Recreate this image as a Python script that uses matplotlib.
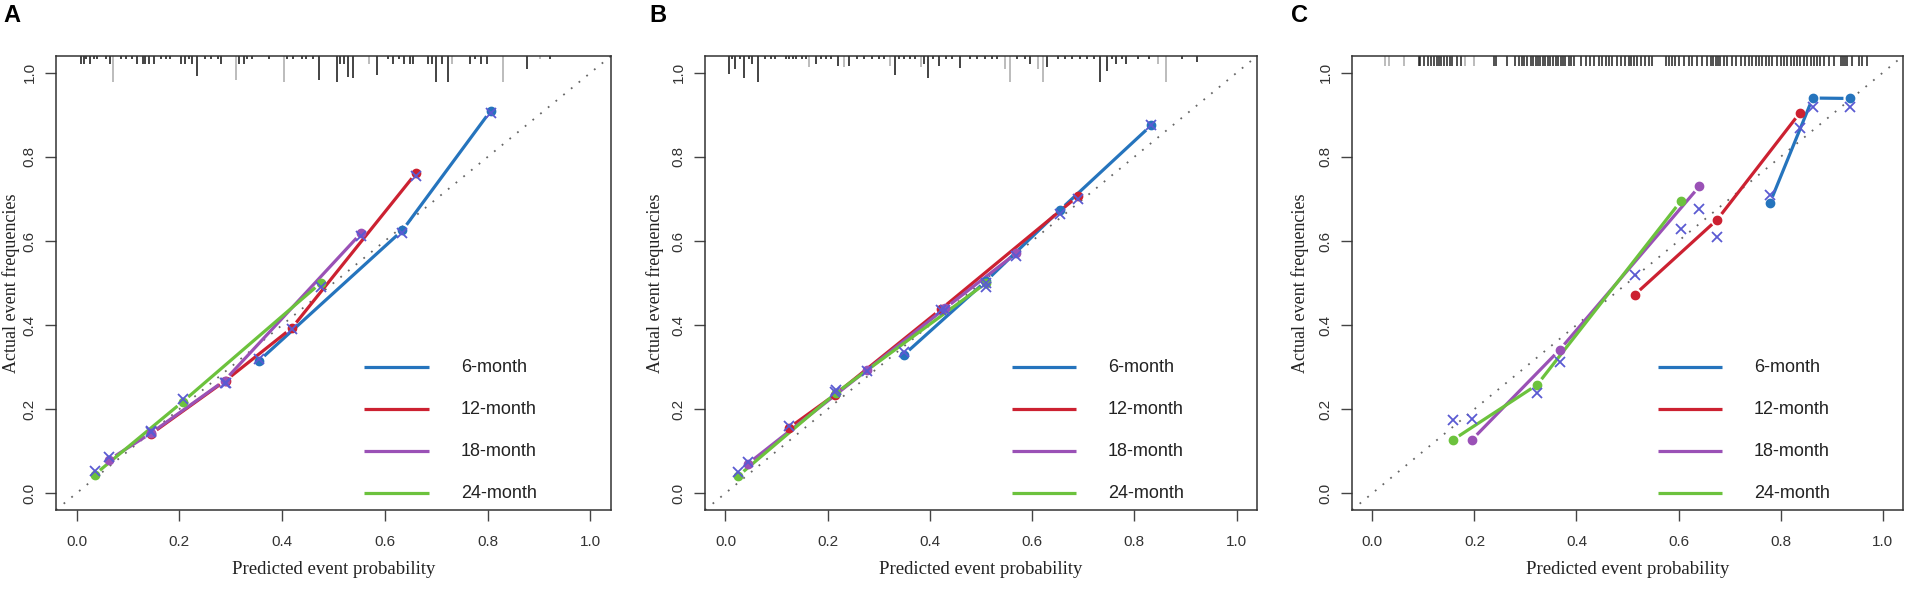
import numpy as np
import matplotlib
matplotlib.use("Agg")
import matplotlib.pyplot as plt

plt.rcParams['font.family'] = ['Liberation Sans', 'DejaVu Sans']

# ---------- data
month_labels = ['6-month', '12-month', '18-month', '24-month']
month_colors = ['#2574bd', '#cc2131', '#9a51b6', '#6cc23d']

# panel A: predicted vs observed, plus bias-corrected estimates (x marks)
a_pred = [[0.355, 0.634, 0.806],
          [0.145, 0.290, 0.419, 0.661],
          [0.064, 0.145, 0.288, 0.554],
          [0.035, 0.207, 0.475]]
a_obs = [[0.315, 0.625, 0.910],
         [0.141, 0.268, 0.393, 0.762],
         [0.080, 0.143, 0.268, 0.619],
         [0.044, 0.218, 0.500]]
a_corr = [[0.320, 0.620, 0.905],
          [0.145, 0.262, 0.390, 0.755],
          [0.085, 0.148, 0.262, 0.612],
          [0.052, 0.225, 0.490]]

# panel B
b_pred = [[0.349, 0.510, 0.654, 0.833],
          [0.124, 0.214, 0.422, 0.689],
          [0.044, 0.276, 0.430, 0.569],
          [0.025, 0.216, 0.510]]
b_obs = [[0.329, 0.505, 0.673, 0.875],
         [0.155, 0.234, 0.438, 0.706],
         [0.070, 0.292, 0.440, 0.571],
         [0.041, 0.238, 0.500]]
b_corr = [[0.335, 0.500, 0.665, 0.875],
          [0.160, 0.240, 0.435, 0.700],
          [0.075, 0.290, 0.435, 0.565],
          [0.050, 0.245, 0.490]]

# panel C
c_pred = [[0.779, 0.863, 0.937],
          [0.514, 0.676, 0.838],
          [0.195, 0.367, 0.641],
          [0.158, 0.323, 0.604]]
c_obs = [[0.690, 0.940, 0.939],
         [0.472, 0.651, 0.905],
         [0.127, 0.341, 0.730],
         [0.127, 0.258, 0.694]]
c_corr = [[0.710, 0.919, 0.919],
          [0.520, 0.610, 0.869],
          [0.176, 0.313, 0.677],
          [0.175, 0.238, 0.629]]

# risk distribution spikes along the top (position, height)
a_rug_black_x = [0.008, 0.015, 0.019, 0.026, 0.033, 0.039, 0.058, 0.065, 0.086, 0.097,
                 0.108, 0.118, 0.129, 0.134, 0.140, 0.150, 0.164, 0.175, 0.182, 0.204,
                 0.211, 0.218, 0.225, 0.234, 0.250, 0.261, 0.275, 0.282, 0.317, 0.325,
                 0.332, 0.342, 0.374, 0.410, 0.421, 0.438, 0.446, 0.460, 0.472, 0.506,
                 0.513, 0.520, 0.529, 0.538, 0.584, 0.606, 0.616, 0.627, 0.638, 0.648,
                 0.655, 0.684, 0.691, 0.700, 0.712, 0.723, 0.766, 0.776, 0.787, 0.798,
                 0.876, 0.922]
a_rug_black_h = [.019, .019, .007, .019, .007, .007, .007, .019, .007, .007,
                 .007, .019, .019, .019, .019, .019, .007, .007, .007, .019,
                 .019, .007, .019, .048, .007, .007, .007, .019, .019, .019,
                 .007, .007, .007, .007, .007, .007, .007, .007, .058, .061,
                 .019, .019, .050, .052, .045, .007, .019, .007, .019, .019,
                 .019, .019, .019, .061, .019, .061, .019, .007, .019, .019,
                 .032, .007]
a_rug_gray_x = [0.070, 0.310, 0.403, 0.570, 0.730, 0.830, 0.901]
a_rug_gray_h = [0.061, 0.058, 0.061, 0.019, 0.019, 0.061, 0.007]

b_rug_black_x = [0.007, 0.013, 0.019, 0.028, 0.037, 0.046, 0.052, 0.063, 0.078, 0.089,
                 0.096, 0.118, 0.125, 0.132, 0.139, 0.150, 0.157, 0.177, 0.186, 0.196,
                 0.207, 0.221, 0.241, 0.257, 0.271, 0.286, 0.300, 0.311, 0.331, 0.339,
                 0.350, 0.361, 0.371, 0.389, 0.396, 0.407, 0.418, 0.432, 0.443, 0.458,
                 0.478, 0.493, 0.507, 0.521, 0.532, 0.571, 0.586, 0.596, 0.630, 0.650,
                 0.664, 0.678, 0.693, 0.707, 0.721, 0.732, 0.746, 0.757, 0.764, 0.775,
                 0.784, 0.807, 0.828, 0.893, 0.923]
b_rug_black_h = [.044, .007, .030, .007, .052, .007, .019, .061, .007, .007,
                 .007, .007, .007, .007, .007, .007, .007, .019, .007, .007,
                 .007, .024, .024, .007, .007, .007, .007, .007, .045, .007,
                 .007, .007, .007, .019, .052, .007, .024, .007, .007, .028,
                 .007, .007, .007, .007, .007, .007, .007, .019, .026, .007,
                 .007, .007, .007, .007, .007, .061, .036, .007, .019, .007,
                 .019, .007, .007, .007, .015]
b_rug_gray_x = [0.164, 0.232, 0.321, 0.382, 0.546, 0.557, 0.611, 0.621, 0.846, 0.861]
b_rug_gray_h = [.026, .026, .024, .026, .030, .061, .032, .061, .019, .061]

c_rug_black_x = [0.091, 0.094, 0.102, 0.109, 0.114, 0.120, 0.126, 0.130, 0.135, 0.140,
                 0.146, 0.153, 0.156, 0.165, 0.173, 0.238, 0.243, 0.264, 0.280, 0.287,
                 0.294, 0.298, 0.303, 0.310, 0.315, 0.320, 0.325, 0.329, 0.335, 0.339,
                 0.344, 0.349, 0.354, 0.359, 0.363, 0.369, 0.374, 0.378, 0.385, 0.390,
                 0.396, 0.408, 0.418, 0.426, 0.434, 0.444, 0.450, 0.457, 0.463, 0.470,
                 0.480, 0.488, 0.496, 0.503, 0.506, 0.512, 0.519, 0.526, 0.534, 0.542,
                 0.548, 0.575, 0.581, 0.588, 0.594, 0.601, 0.611, 0.620, 0.627, 0.637,
                 0.646, 0.656, 0.663, 0.667, 0.673, 0.678, 0.682, 0.689, 0.695, 0.704,
                 0.712, 0.722, 0.731, 0.738, 0.744, 0.751, 0.758, 0.764, 0.771, 0.777,
                 0.784, 0.794, 0.800, 0.807, 0.813, 0.820, 0.826, 0.833, 0.839, 0.846,
                 0.852, 0.859, 0.865, 0.872, 0.878, 0.885, 0.895, 0.905, 0.918, 0.922,
                 0.926, 0.931, 0.941, 0.954, 0.960, 0.970]
c_rug_gray_x = [0.024, 0.032, 0.061, 0.182, 0.200]

ticks = [0.0, 0.2, 0.4, 0.6, 0.8, 1.0]
tick_labels = ['0.0', '0.2', '0.4', '0.6', '0.8', '1.0']

# ----------
W, H = 1906, 592
fig = plt.figure(figsize=(W / 100, H / 100), dpi=100, facecolor='white')

# letter, axes left px, axes width px, ylabel offset px, letter x px, data..., rugs
panels = [
    ('A', 56, 555, 45, 3, a_pred, a_obs, a_corr,
     [(a_rug_black_x, a_rug_black_h, '#111111'), (a_rug_gray_x, a_rug_gray_h, '#aaaaaa')]),
    ('B', 705, 552, 50, 649, b_pred, b_obs, b_corr,
     [(b_rug_black_x, b_rug_black_h, '#111111'), (b_rug_gray_x, b_rug_gray_h, '#aaaaaa')]),
    ('C', 1352, 551, 52, 1291, c_pred, c_obs, c_corr,
     [(c_rug_black_x, [0.024] * len(c_rug_black_x), '#222222'),
      (c_rug_gray_x, [0.024] * len(c_rug_gray_x), '#aaaaaa')]),
]

top_px, bot_px = 56, 510
lo, hi = -0.04, 1.04


def gapped_line(ax, xs, ys, color, gap=7.0):
    # R type="b": segments stop short of each point
    pts = ax.transData.transform(np.column_stack([xs, ys]))
    inv = ax.transData.inverted()
    for p, q in zip(pts[:-1], pts[1:]):
        d = q - p
        L = np.hypot(d[0], d[1])
        if L <= 2 * gap:
            continue
        u = d / L
        seg = inv.transform(np.array([p + u * gap, q - u * gap]))
        ax.plot(seg[:, 0], seg[:, 1], color=color, lw=2.3, solid_capstyle='butt', zorder=3)


for letter, left_px, width_px, ylab_px, letter_px, pred, obs, corr, rugs in panels:
    ax = fig.add_axes([left_px / W, 1 - bot_px / H, width_px / W, (bot_px - top_px) / H])
    ax.set_xlim(lo, hi)
    ax.set_ylim(lo, hi)

    for sp in ax.spines.values():
        sp.set_color('#333333')
        sp.set_linewidth(1.1)

    ax.set_xticks(ticks)
    ax.set_xticklabels(tick_labels)
    ax.set_yticks(ticks)
    ax.set_yticklabels(tick_labels, rotation=90, va='center')
    ax.tick_params(direction='out', length=8, width=1, color='#444444',
                   labelsize=11, labelcolor='#333333')
    ax.tick_params(axis='x', pad=10)
    ax.tick_params(axis='y', pad=6)

    ax.set_xlabel('Predicted event probability', family='Liberation Serif',
                  fontsize=13.5, color='#222222', va='center')
    ax.xaxis.set_label_coords(0.5, -(570 - bot_px) / (bot_px - top_px))
    ax.set_ylabel('Actual event frequencies', family='Liberation Serif',
                  fontsize=13, color='#222222', va='center')
    ax.yaxis.set_label_coords(-ylab_px / width_px, 0.5)

    # ideal line
    ax.plot([lo, hi], [lo, hi], color='#666666', lw=1.3, dashes=(1, 4.5), zorder=1)

    # spikes hanging from the top border
    for rx, rh, rc in rugs:
        rx = np.asarray(rx)
        ax.vlines(rx, hi - np.asarray(rh), hi, color=rc, lw=1.1, zorder=2)

    for i, color in enumerate(month_colors):
        gapped_line(ax, pred[i], obs[i], color)
        ax.plot(pred[i], obs[i], 'o', color=color, ms=6, zorder=4)
        ax.plot(pred[i], corr[i], 'x', color='#5a5ad2', ms=7, mew=1.3, zorder=5)

    # legend drawn like R's legend(): line + label
    for i, (lab, color) in enumerate(zip(month_labels, month_colors)):
        yy = 0.3 - 0.1 * i
        ax.plot([0.56, 0.686], [yy, yy], color=color, lw=2.3, solid_capstyle='butt')
        ax.text(0.748, yy, lab, fontsize=13, color='#222222', va='center', ha='left')

    fig.text(letter_px / W, 1 - 4 / H, letter, fontsize=17, fontweight='bold',
             ha='left', va='top', color='black')

fig.savefig('out.png', dpi=100, facecolor='white')
